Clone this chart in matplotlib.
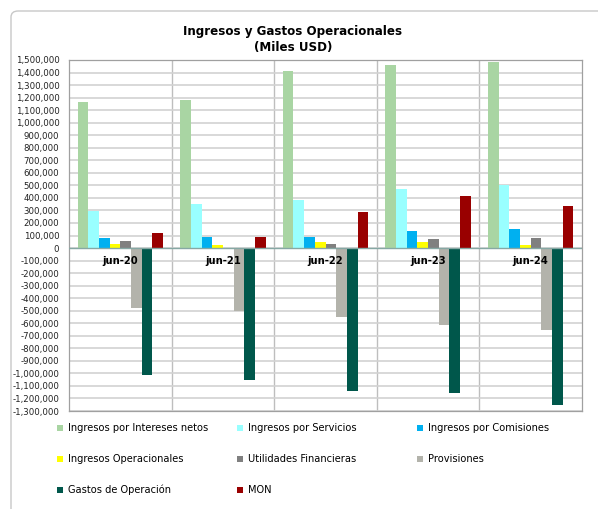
import numpy as np
import matplotlib
matplotlib.use("Agg")
import matplotlib.pyplot as plt
from matplotlib.patches import FancyBboxPatch, Rectangle

# datos (miles USD)
periodos = ["jun-20", "jun-21", "jun-22", "jun-23", "jun-24"]
series = ["Ingresos por Intereses netos", "Ingresos por Servicios", "Ingresos por Comisiones",
          "Ingresos Operacionales", "Utilidades Financieras", "Provisiones",
          "Gastos de Operación", "MON"]
intereses = [1162000, 1184000, 1412000, 1457000, 1483000]
servicios = [295000, 352000, 385000, 470000, 500000]
comisiones = [77000, 85000, 90000, 133000, 151000]
operacionales = [34000, 22000, 47000, 50000, 28000]
utilidades = [56000, 3000, 31000, 74000, 79000]
provisiones = [-476000, -506000, -554000, -616000, -656000]
gastos = [-1015000, -1049000, -1142000, -1158000, -1250000]
mon = [117000, 86000, 285000, 412000, 335000]
valores = [intereses, servicios, comisiones, operacionales, utilidades, provisiones, gastos, mon]
colores = ["#A9D5A3", "#99FFFF", "#00B0F0", "#FFFF00", "#808080", "#B3B3AB", "#00574B", "#990000"]

plt.rcParams['font.family'] = ['DejaVu Sans']

fig = plt.figure(figsize=(5.98, 5.09), dpi=100)
W, H = 598, 509

# marco exterior redondeado (cortado a la derecha y abajo)
marco = FancyBboxPatch((11 / W, -0.1), 1.2, 1 - 11 / H + 0.1,
                       boxstyle="round,pad=0,rounding_size=0.012", transform=fig.transFigure,
                       facecolor="white", edgecolor="#C8C8C8", linewidth=1.0, zorder=0)
fig.patches.append(marco)

ax = fig.add_axes([69 / W, 1 - 411 / H, (582 - 69) / W, (411 - 60) / H])
ax.set_zorder(1)

n = len(series)
ancho = 1 / 9.6
x = np.arange(len(periodos))
for i, (nombre, vals, c) in enumerate(zip(series, valores, colores)):
    off = (i - (n - 1) / 2) * ancho
    ax.bar(x + off, vals, width=ancho, color=c, edgecolor="none", zorder=3, label=nombre)

ticks = np.arange(-1300000, 1500001, 100000)
ax.set_xlim(-0.5, len(periodos) - 0.5)
ax.set_ylim(-1300000, 1500000)
ax.set_yticks(ticks)
ax.set_yticklabels([f"{v:,.0f}" for v in ticks], fontsize=6.2, color="#222222")
ax.set_xticks([])
ax.grid(axis="y", color="#D2D2D2", linewidth=1.2, zorder=0)
for b in np.arange(0.5, len(periodos) - 0.5, 1):
    ax.axvline(b, color="#BEBEBE", linewidth=1.0, zorder=1)
ax.axhline(0, color="#86A8A4", linewidth=1.0, zorder=4)
ax.tick_params(axis="y", length=0, pad=7)
for s in ax.spines.values():
    s.set_color("#A0A0A0")
    s.set_linewidth(0.9)

for xi, p in zip(x, periodos):
    ax.text(xi, -60000, p, ha="center", va="top", fontsize=7.2, fontweight="bold", zorder=5)

fig.text(293 / W, 1 - 32 / H, "Ingresos y Gastos Operacionales", ha="center", va="center",
         fontsize=8.6, fontweight="bold")
fig.text(293 / W, 1 - 48 / H, "(Miles USD)", ha="center", va="center",
         fontsize=8.6, fontweight="bold")

# leyenda
cols = [60, 240, 420]
filas = [428, 459, 490]
for i, (nombre, c) in enumerate(zip(series, colores)):
    cx = cols[i % 3]
    cy = filas[i // 3]
    fig.patches.append(Rectangle(((cx - 3) / W, 1 - (cy + 3) / H), 6 / W, 6 / H,
                                 transform=fig.transFigure, facecolor=c, edgecolor="none"))
    fig.text((cx + 8) / W, 1 - cy / H, nombre, ha="left", va="center", fontsize=7.1)

fig.savefig("out.png", dpi=100)
